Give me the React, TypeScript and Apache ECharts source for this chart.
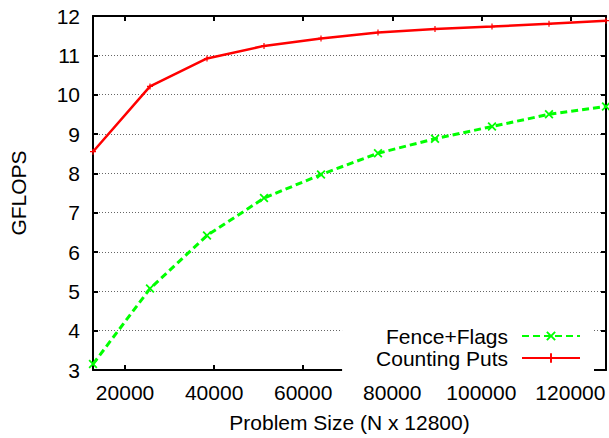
import React, { useEffect, useRef } from "react";
import * as echarts from "echarts";

const problemSizes = [12800, 25600, 38400, 51200, 64000, 76800, 89600, 102400, 115200, 128000];
const fenceFlags = [3.15, 5.07, 6.42, 7.37, 7.97, 8.51, 8.88, 9.19, 9.5, 9.7];
const countingPuts = [8.55, 10.21, 10.92, 11.24, 11.43, 11.58, 11.67, 11.73, 11.8, 11.88];
const xTickValues = [20000, 40000, 60000, 80000, 100000, 120000];
const seriesNames = ["Fence+Flags", "Counting Puts"];
const xAxisTitle = "Problem Size (N x 12800)";
const yAxisTitle = "GFLOPS";

const FONT = "'Liberation Sans', Arial, Helvetica, sans-serif";
const CROSS = "path://M0,1.4L3.6,5L5,3.6L1.4,0L5,-3.6L3.6,-5L0,-1.4L-3.6,-5L-5,-3.6L-1.4,0L-5,3.6L-3.6,5Z";
const PLUS = "path://M-1,-5H1V-1H5V1H1V5H-1V1H-5V-1H-1Z";

export default function App() {
  const ref = useRef<HTMLDivElement>(null);
  useEffect(() => {
    if (!ref.current) return;
    const chart = echarts.init(ref.current, undefined, { renderer: "svg" });
    const text = { fontFamily: FONT, fontSize: 21, color: "#000" };
    const axisLine = { show: true, lineStyle: { color: "#000", width: 2 } };
    const tick = { show: true, inside: true, length: 5, lineStyle: { color: "#000", width: 2 } };
    chart.setOption({
      animation: false,
      backgroundColor: "#fff",
      grid: { left: 92, right: 3, top: 16, bottom: 64, containLabel: false },
      legend: {
        orient: "vertical",
        align: "right",
        right: 15,
        top: 320,
        padding: [5, 13, 5, 34],
        backgroundColor: "#fff",
        itemWidth: 58,
        itemHeight: 12,
        itemGap: 0,
        textStyle: { ...text, lineHeight: 22, padding: [0, 9, 0, 0] },
        data: seriesNames,
      },
      xAxis: [
        {
          type: "value",
          min: 12800,
          max: 128000,
          position: "bottom",
          axisLine,
          axisTick: { ...tick, customValues: xTickValues },
          axisLabel: { ...text, margin: 12, customValues: xTickValues, formatter: (v: number) => String(v) },
          splitLine: { show: false },
          name: xAxisTitle,
          nameLocation: "middle",
          nameGap: 42,
          nameTextStyle: text,
        },
        {
          type: "value",
          min: 12800,
          max: 128000,
          position: "top",
          axisLine,
          axisTick: { ...tick, customValues: xTickValues },
          axisLabel: { show: false, customValues: xTickValues },
          splitLine: { show: false },
        },
      ],
      yAxis: [
        {
          type: "value",
          min: 3,
          max: 12,
          interval: 1,
          position: "left",
          axisLine,
          axisTick: tick,
          axisLabel: { ...text, margin: 13 },
          splitLine: { show: true, lineStyle: { color: "#666", width: 1, type: [1, 2] } },
          name: yAxisTitle,
          nameLocation: "middle",
          nameGap: 64,
          nameRotate: 90,
          nameTextStyle: text,
        },
        {
          type: "value",
          min: 3,
          max: 12,
          interval: 1,
          position: "right",
          axisLine,
          axisTick: tick,
          axisLabel: { show: false },
          splitLine: { show: false },
        },
      ],
      series: [
        {
          name: seriesNames[0],
          type: "line",
          data: problemSizes.map((x, i) => [x, fenceFlags[i]]),
          symbol: CROSS,
          symbolSize: 9,
          showAllSymbol: true,
          itemStyle: { color: "#00ff00" },
          lineStyle: { color: "#00ff00", width: 3, type: [7, 4] },
        },
        {
          name: seriesNames[1],
          type: "line",
          data: problemSizes.map((x, i) => [x, countingPuts[i]]),
          symbol: PLUS,
          symbolSize: 6,
          showAllSymbol: true,
          itemStyle: { color: "#ff0000" },
          lineStyle: { color: "#ff0000", width: 2.5 },
        },
      ],
    });
    return () => chart.dispose();
  }, []);
  return (
    <div
      ref={ref}
      style={{ position: "fixed", left: 0, top: 0, width: 609, height: 438 }}
    />
  );
}
